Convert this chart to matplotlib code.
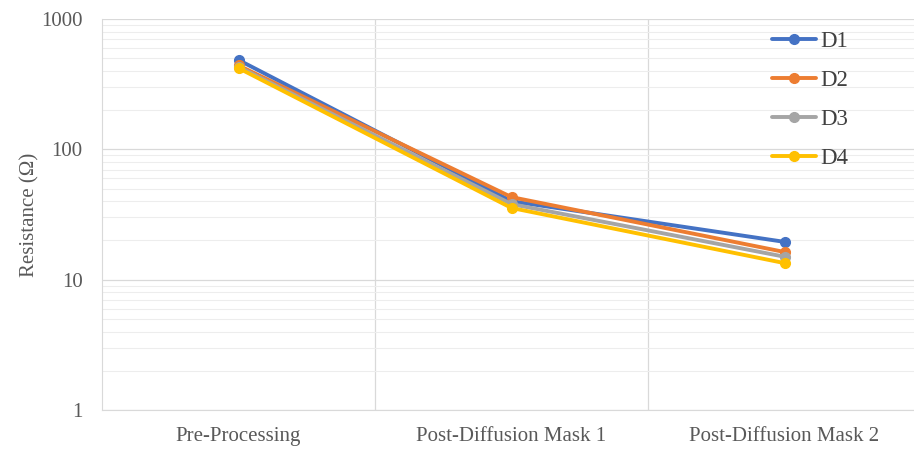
import matplotlib.pyplot as plt
import numpy as np
from matplotlib.ticker import LogLocator, NullFormatter, FixedLocator

stages = ['Pre-Processing', 'Post-Diffusion Mask 1', 'Post-Diffusion Mask 2']
d1 = [485, 40, 19.5]
d2 = [440, 43, 16.3]
d3 = [430, 38, 15]
d4 = [420, 35.5, 13.4]

series = [('D1', d1, '#4472C4'), ('D2', d2, '#ED7D31'),
          ('D3', d3, '#A5A5A5'), ('D4', d4, '#FFC000')]

plt.rcParams['font.family'] = ['Liberation Serif', 'DejaVu Serif']

fig = plt.figure(figsize=(9.14, 4.53), dpi=100)
ax = fig.add_axes([102 / 914, 1 - 410 / 453, 812 / 914, (410 - 19) / 453])

xs = np.arange(len(stages))
for name, vals, c in series:
    ax.plot(xs, vals, '-o', color=c, lw=2.8, markersize=7, label=name,
            solid_capstyle='round')

ax.set_yscale('log')
ax.set_ylim(1, 1000)
ax.set_xlim(-0.5, -0.5 + 812 / 273)

ax.set_xticks(xs)
ax.set_xticklabels(stages)
ax.set_yticks([1, 10, 100, 1000])
ax.set_yticklabels(['1', '10', '100', '1000'])
ax.yaxis.set_minor_locator(LogLocator(base=10, subs=np.arange(2, 10)))
ax.yaxis.set_minor_formatter(NullFormatter())
ax.xaxis.set_minor_locator(FixedLocator([0.5, 1.5]))

ax.grid(which='major', axis='y', color='#d9d9d9', lw=0.9)
ax.grid(which='minor', axis='y', color='#ededed', lw=0.8)
ax.grid(which='minor', axis='x', color='#d9d9d9', lw=0.9)
ax.set_axisbelow(True)

ax.tick_params(which='both', length=0, labelsize=15, labelcolor='#595959')
ax.tick_params(axis='x', pad=12)
ax.tick_params(axis='y', pad=14)
for s in ['top', 'right']:
    ax.spines[s].set_visible(False)
for s in ['left', 'bottom']:
    ax.spines[s].set_color('#d9d9d9')

ax.set_ylabel('Resistance (\u03a9)', fontsize=15, color='#595959', labelpad=1)

leg = ax.legend(loc='upper left', bbox_to_anchor=(772 / 914, 1 - 31 / 453),
                bbox_transform=fig.transFigure, frameon=False,
                fontsize=16.5, labelspacing=0.78, handlelength=1.9,
                handletextpad=0.2, borderaxespad=0, borderpad=0)
for t in leg.get_texts():
    t.set_color('#404040')

fig.savefig('out.png', dpi=100)
